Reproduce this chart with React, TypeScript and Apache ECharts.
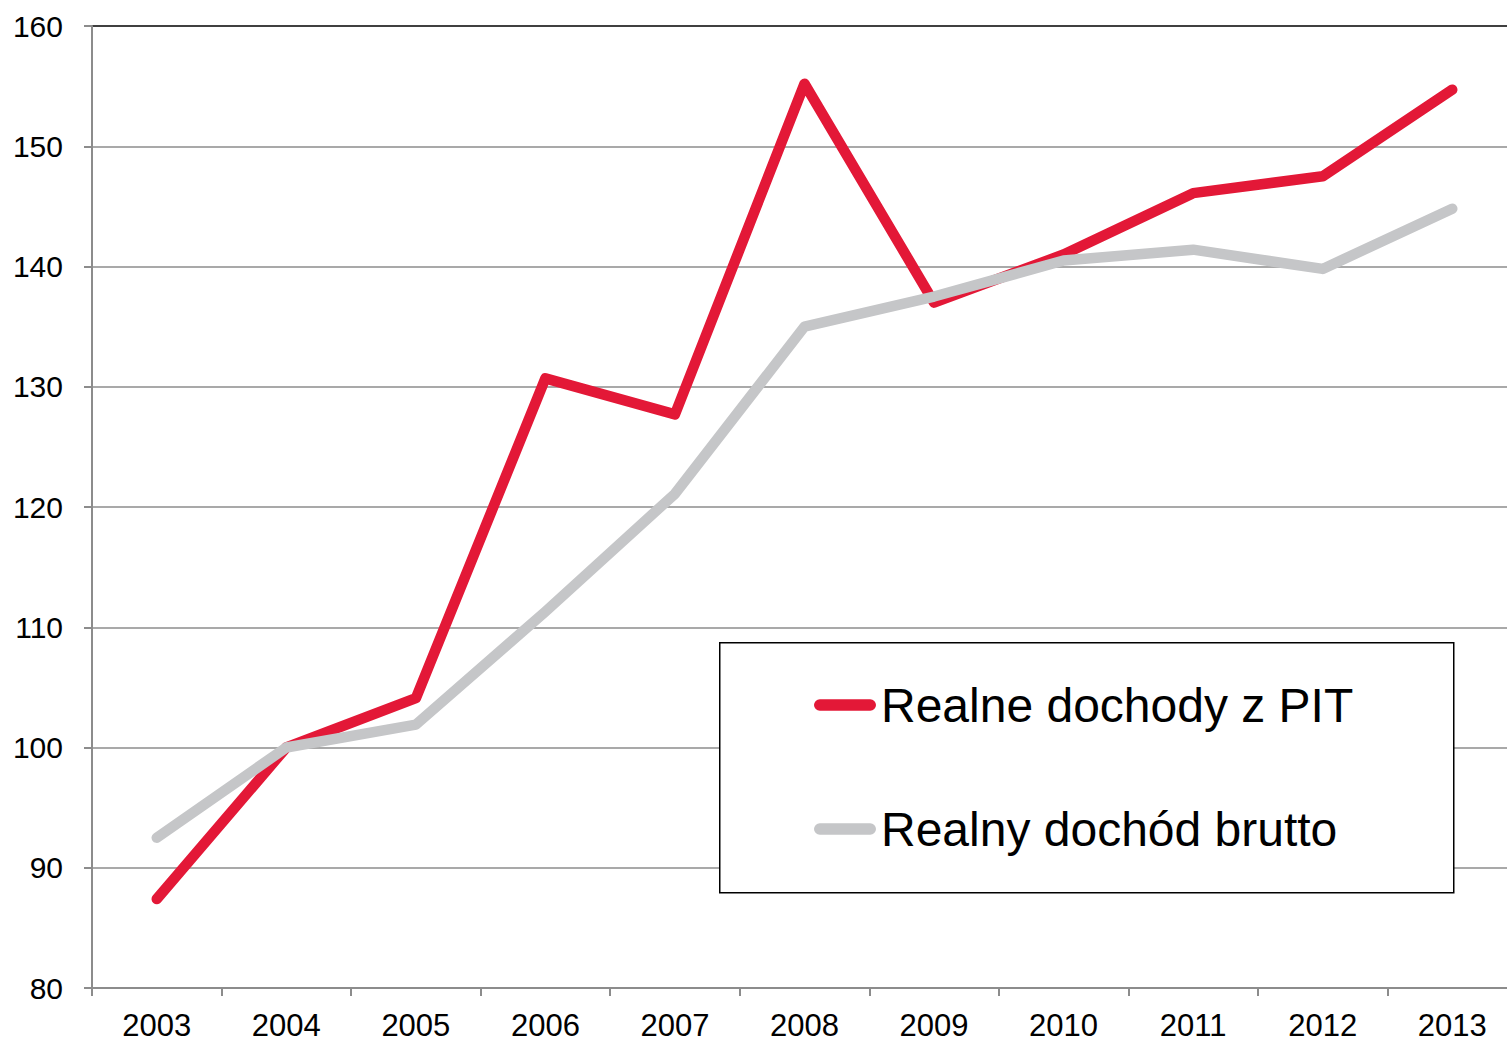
import React, { useEffect, useRef } from "react";
import * as echarts from "echarts";

const years = ["2003", "2004", "2005", "2006", "2007", "2008", "2009", "2010", "2011", "2012", "2013"];
const pitIncome = [87.4, 100.0, 104.1, 130.7, 127.7, 155.2, 137.0, 141.0, 146.1, 147.5, 154.7];
const grossIncome = [92.5, 100.0, 101.9, 111.3, 121.1, 135.0, 137.5, 140.5, 141.4, 139.8, 144.8];
const seriesNames = ["Realne dochody z PIT", "Realny dochód brutto"];

const RED = "#E31837";
const GRAY = "#C5C6C8";
const FONT = "Liberation Sans, Arial, sans-serif";
const capsule = "path://M6,0 L58,0 A6,6 0 0 1 58,12 L6,12 A6,6 0 0 1 6,0 Z";

export default function App() {
  const ref = useRef<HTMLDivElement>(null);
  useEffect(() => {
    if (!ref.current) return;
    const chart = echarts.init(ref.current, undefined, { renderer: "svg" });
    const gridColors = ["#8c8c8c", "#8c8c8c", "#8c8c8c", "#8c8c8c", "#8c8c8c", "#8c8c8c", "#8c8c8c", "#8c8c8c", "#000000"];
    chart.setOption({
      animation: false,
      backgroundColor: "#ffffff",
      grid: { left: 92, right: 0, top: 26, bottom: 55, containLabel: false },
      xAxis: {
        type: "category",
        data: years,
        boundaryGap: true,
        axisLine: { show: true, lineStyle: { color: "#8c8c8c", width: 2 } },
        axisTick: { show: true, length: 8, lineStyle: { color: "#8c8c8c", width: 2 } },
        axisLabel: { color: "#000", fontSize: 31, fontFamily: FONT, margin: 22 },
        splitLine: { show: false },
      },
      yAxis: {
        type: "value",
        min: 80,
        max: 160,
        interval: 10,
        axisLine: { show: true, lineStyle: { color: "#8c8c8c", width: 2 } },
        axisTick: { show: true, length: 8, lineStyle: { color: "#8c8c8c", width: 2 } },
        axisLabel: { color: "#000", fontSize: 30, fontFamily: FONT, margin: 29 },
        splitLine: { show: true, lineStyle: { color: gridColors, width: 1.5 } },
      },
      legend: {
        orient: "vertical",
        left: 814,
        top: 677,
        padding: 0,
        itemWidth: 62,
        itemHeight: 12,
        itemGap: 68,
        z: 6,
        data: [
          { name: seriesNames[0], icon: capsule, itemStyle: { color: RED } },
          { name: seriesNames[1], icon: capsule, itemStyle: { color: GRAY } },
        ],
        textStyle: { color: "#000", fontSize: 48, lineHeight: 56, fontFamily: FONT },
      },
      graphic: [
        {
          type: "rect",
          left: 719,
          top: 642,
          z: 5,
          shape: { width: 734, height: 250 },
          style: { fill: "#ffffff", stroke: "#000000", lineWidth: 1.5 },
        },
      ],
      series: [
        {
          name: seriesNames[0],
          type: "line",
          data: pitIncome,
          symbol: "none",
          z: 2,
          lineStyle: { color: RED, width: 10.5, cap: "round", join: "round" },
          itemStyle: { color: RED },
        },
        {
          name: seriesNames[1],
          type: "line",
          data: grossIncome,
          symbol: "none",
          z: 3,
          lineStyle: { color: GRAY, width: 10.5, cap: "round", join: "round" },
          itemStyle: { color: GRAY },
        },
      ],
    });
    return () => chart.dispose();
  }, []);
  return (
    <div style={{ position: "absolute", left: 0, top: 0, width: 1507, height: 1043, overflow: "hidden", background: "#fff" }}>
      <div ref={ref} style={{ position: "absolute", left: 0, top: 0, width: 1517, height: 1043 }} />
    </div>
  );
}
